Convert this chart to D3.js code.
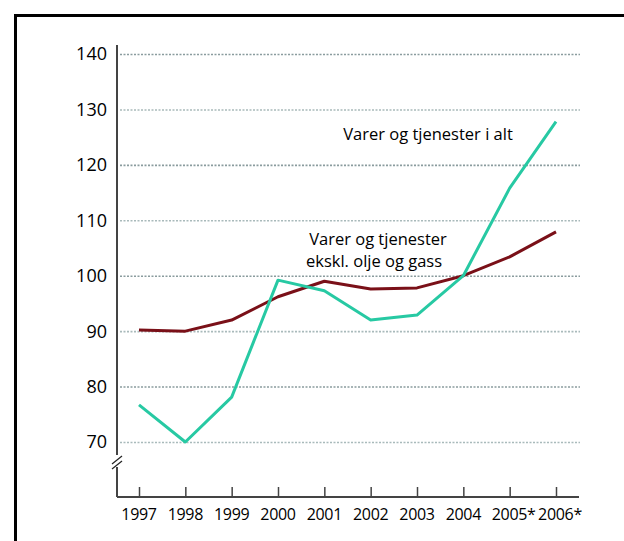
<!DOCTYPE html>
<html>
<head>
<meta charset="utf-8">
<script src="https://cdn.jsdelivr.net/npm/d3@7"></script>
<style>
  body { margin: 0; background: #fff; }
  svg { display: block; font-family: "Open Sans", "DejaVu Sans", sans-serif; }
</style>
</head>
<body>
<div id="chart"></div>
<script>
const years = ['1997', '1998', '1999', '2000', '2001', '2002', '2003', '2004', '2005*', '2006*'];
const totalValues = [76.7, 70.0, 78.1, 99.2, 97.3, 92.0, 92.9, 100.0, 115.8, 127.8];
const exOilValues = [90.2, 90.0, 92.0, 96.2, 99.0, 97.6, 97.8, 100.0, 103.4, 107.9];
const yTicks = [70, 80, 90, 100, 110, 120, 130, 140];

const width = 624, height = 541;

const svg = d3.select('#chart')
    .append('svg')
    .attr('width', width)
    .attr('height', height);

// Frame (only top and left edges show inside the window)
svg.append('rect')
    .attr('x', 15.5)
    .attr('y', 15.5)
    .attr('width', 700)
    .attr('height', 700)
    .attr('fill', 'none')
    .attr('stroke', '#000')
    .attr('stroke-width', 3);

const x = d3.scalePoint()
    .domain(years)
    .range([139, 556]);

const y = d3.scaleLinear()
    .domain([70, 140])
    .range([442, 54]);

const axisX = 117, axisY = 497;

// Dotted gridlines
svg.append('g')
    .selectAll('line')
    .data(yTicks)
    .join('line')
    .attr('x1', axisX + 3)
    .attr('x2', 580)
    .attr('y1', d => y(d) + 0.5)
    .attr('y2', d => y(d) + 0.5)
    .attr('stroke', (d, i) => i % 2 ? '#8a9c9e' : '#a9babb')
    .attr('stroke-width', 1.6)
    .attr('stroke-dasharray', '2,1.5');

// Y axis line
svg.append('line')
    .attr('x1', axisX).attr('x2', axisX)
    .attr('y1', 45).attr('y2', axisY)
    .attr('stroke', '#444')
    .attr('stroke-width', 2);

// Axis break mark
const brk = svg.append('g').attr('transform', `translate(${axisX},463)`);
brk.append('rect')
    .attr('x', -4).attr('y', -8).attr('width', 8).attr('height', 12)
    .attr('fill', '#fff');
[-3, 2].forEach(o => {
    brk.append('line')
        .attr('x1', -5).attr('y1', o + 4)
        .attr('x2', 5).attr('y2', o - 4)
        .attr('stroke', '#222')
        .attr('stroke-width', 1.3);
});

// Y tick labels
svg.append('g')
    .selectAll('text')
    .data(yTicks)
    .join('text')
    .attr('x', 107)
    .attr('y', d => y(d))
    .attr('dy', '0.36em')
    .attr('text-anchor', 'end')
    .attr('font-size', 18)
    .attr('fill', '#000')
    .text(d => d);

// X axis
const xAxis = svg.append('g')
    .attr('transform', `translate(0,${axisY})`)
    .call(d3.axisTop(x).tickSize(10).tickFormat(''));
xAxis.select('.domain')
    .attr('d', `M${axisX},0H579`)
    .attr('stroke', '#444')
    .attr('stroke-width', 2);
xAxis.selectAll('.tick line')
    .attr('stroke', '#444')
    .attr('stroke-width', 1.5);

svg.append('g')
    .selectAll('text')
    .data(years)
    .join('text')
    .attr('x', d => x(d) + (d.endsWith('*') ? 4 : 0))
    .attr('y', 520)
    .attr('text-anchor', 'middle')
    .attr('font-size', 16)
    .attr('letter-spacing', -0.3)
    .attr('fill', '#000')
    .text(d => d);

// Lines
const line = d3.line()
    .x((d, i) => x(years[i]))
    .y(d => y(d));

svg.append('path')
    .datum(exOilValues)
    .attr('d', line)
    .attr('fill', 'none')
    .attr('stroke', '#7a1018')
    .attr('stroke-width', 3)
    .attr('stroke-linejoin', 'round');

svg.append('path')
    .datum(totalValues)
    .attr('d', line)
    .attr('fill', 'none')
    .attr('stroke', '#27c9a3')
    .attr('stroke-width', 3)
    .attr('stroke-linejoin', 'round');

// Series labels
svg.append('text')
    .attr('x', 428)
    .attr('y', 140)
    .attr('text-anchor', 'middle')
    .attr('font-size', 16.5)
    .attr('fill', '#000')
    .text('Varer og tjenester i alt');

const lbl = svg.append('text')
    .attr('y', 245)
    .attr('text-anchor', 'middle')
    .attr('font-size', 16.5)
    .attr('fill', '#000');
lbl.append('tspan').attr('x', 378).text('Varer og tjenester');
lbl.append('tspan').attr('x', 374).attr('dy', 22).text('ekskl. olje og gass');
</script>
</body>
</html>
